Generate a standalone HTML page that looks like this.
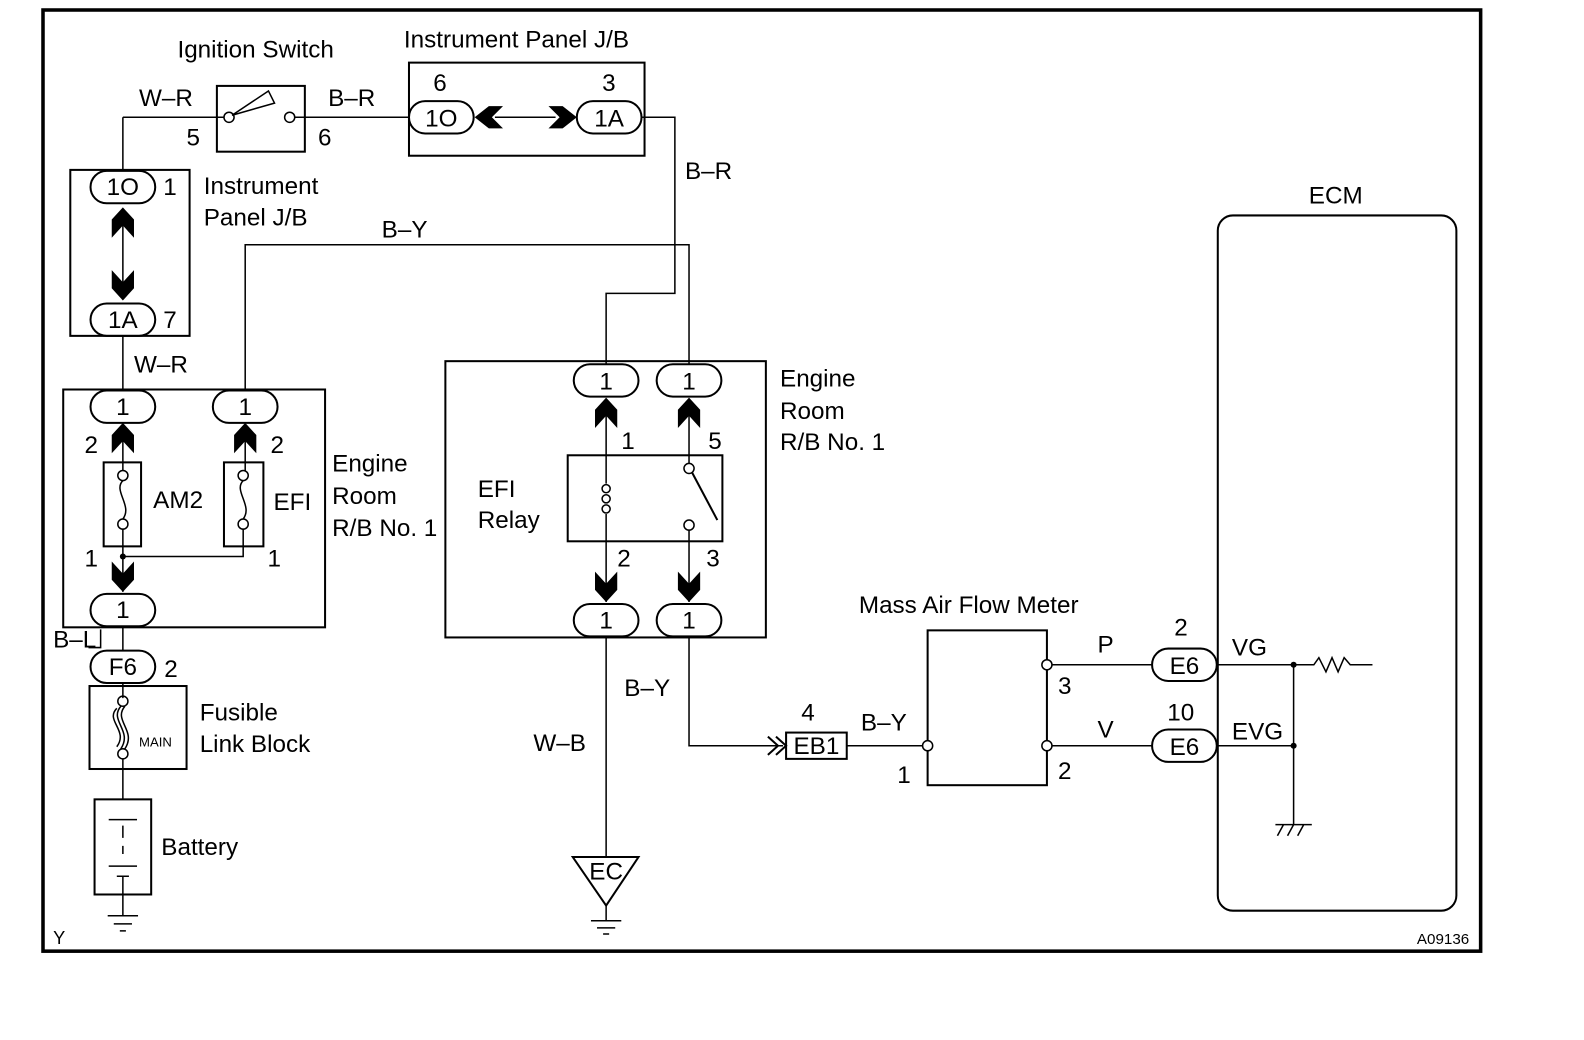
<!DOCTYPE html>
<html><head><meta charset="utf-8"><style>
html,body{margin:0;padding:0;background:#fff}
svg{display:block}
text{font-family:"Liberation Sans",sans-serif;fill:#000}
</style></head><body>
<svg width="1584" height="1040" viewBox="0 0 1584 1040" xmlns="http://www.w3.org/2000/svg">
<rect x="0" y="0" width="1584" height="1040" fill="#fff"/>
<g transform="translate(43 10) scale(1.011 1.012) translate(-43 -10)">
<g fill="none" stroke="#000" stroke-width="1.5">
<rect x="43" y="10" width="1422" height="930" stroke-width="3.5"/>
<rect x="215" y="85" width="87" height="65" stroke-width="2"/>
<circle cx="227" cy="116" r="5"/><circle cx="287" cy="116" r="5"/>
<path d="M230 114 L266 90 L272 102 Z" stroke-width="1.5"/>
<path d="M122 116 H222 M292 116 H405"/>
<rect x="405" y="62" width="233" height="92" stroke-width="2"/>
<rect x="405" y="100" width="64" height="32" rx="16" stroke-width="2"/>
<rect x="571" y="100" width="64" height="32" rx="16" stroke-width="2"/>
<path d="M490 116 H550"/>
<path d="M636 116 H668 V290 H600 V360"/>
<path d="M243 385 V242 H682 V360"/>
<rect x="70" y="168" width="118" height="164" stroke-width="2"/>
<rect x="90" y="169" width="64" height="32" rx="16" stroke-width="2"/>
<rect x="90" y="300" width="64" height="32" rx="16" stroke-width="2"/>
<path d="M122 116 V169 M122 210 V295 M122 332 V386"/>
<rect x="63" y="385" width="259" height="235" stroke-width="2"/>
<rect x="90" y="386" width="64" height="32" rx="16" stroke-width="2"/>
<rect x="211" y="386" width="64" height="32" rx="16" stroke-width="2"/>
<rect x="90" y="587" width="64" height="32" rx="16" stroke-width="2"/>
<rect x="103" y="457" width="37" height="83" stroke-width="2"/>
<rect x="222" y="457" width="39" height="83" stroke-width="2"/>
<circle cx="122" cy="470" r="5"/><circle cx="122" cy="518" r="5"/>
<circle cx="241" cy="470" r="5"/><circle cx="241" cy="518" r="5"/>
<path d="M122 475 C112 485,132 500,122 513 M241 475 C231 485,251 500,241 513"/>
<path d="M122 420 V465 M122 523 V585 M243 420 V465 M241 523 V550 H122"/>
<path d="M122 619 V643 M122 674 V690 M100 622 V640 H88"/>
<rect x="90" y="643" width="64" height="32" rx="16" stroke-width="2"/>
<rect x="89" y="678" width="96" height="82" stroke-width="2"/>
<circle cx="122" cy="693" r="5"/><circle cx="122" cy="745" r="5"/>
<path d="M120 698 C108 712,132 722,120 740 M124 698 C112 712,136 722,124 740 M116 700 C104 712,128 722,116 738"/>
<path d="M122 750 V790"/>
<rect x="94" y="790" width="56" height="94" stroke-width="2"/>
<path d="M108 810 H136 M122 816 V828 M122 836 V844 M108 856 H136 M116 866 H128 M122 866 V905"/>
<path d="M107 905 H137 M113 913 H131 M119 920 H125"/>
<rect x="441" y="357" width="317" height="273" stroke-width="2"/>
<rect x="568" y="360" width="64" height="32" rx="16" stroke-width="2"/>
<rect x="650" y="360" width="64" height="32" rx="16" stroke-width="2"/>
<rect x="568" y="597" width="64" height="32" rx="16" stroke-width="2"/>
<rect x="650" y="597" width="64" height="32" rx="16" stroke-width="2"/>
<rect x="562" y="450" width="153" height="85" stroke-width="2"/>
<path d="M600 395 V478 M600 508 V595"/>
<circle cx="600" cy="483" r="4"/><circle cx="600" cy="493" r="4"/><circle cx="600" cy="503" r="4"/>
<path d="M682 395 V458 M682 524 V595"/>
<circle cx="682" cy="463" r="5"/><circle cx="682" cy="519" r="5"/>
<path d="M685 467 L710 514" stroke-width="2"/>
<path d="M600 629 V848"/>
<path d="M567 847 H632 L600 895 Z" stroke-width="2"/>
<path d="M600 895 V910 M585 910 H615 M591 917 H609 M597 923 H603"/>
<path d="M682 629 V737 H775"/>
<path d="M760 728 L770 737 L760 746 M768 728 L778 737 L768 746" stroke-width="2"/>
<rect x="778" y="724" width="60" height="26" stroke-width="2"/>
<path d="M838 737 H913"/>
<rect x="918" y="623" width="118" height="153" stroke-width="2"/>
<circle cx="918" cy="737" r="5" fill="#fff"/>
<circle cx="1036" cy="657" r="5" fill="#fff"/>
<circle cx="1036" cy="737" r="5" fill="#fff"/>
<path d="M1041 657 H1140 M1041 737 H1140"/>
<rect x="1140" y="641" width="64" height="32" rx="16" stroke-width="2"/>
<rect x="1140" y="721" width="64" height="32" rx="16" stroke-width="2"/>
<rect x="1205" y="213" width="236" height="687" rx="15" stroke-width="2"/>
<path d="M1205 657 H1300 L1305 650 L1312 664 L1318 650 L1324 664 L1330 650 L1336 657 H1358"/>
<path d="M1205 737 H1280 M1280 657 V815 M1262 815 H1298 M1264 826 L1270 815 M1274 826 L1280 815 M1284 826 L1290 815"/>
</g>
<g fill="#000">
<circle cx="1280" cy="657" r="3"/><circle cx="1280" cy="737" r="3"/><circle cx="122" cy="550" r="3"/>
<polygon points="470,116 484,105 498,105 487,116 498,127 484,127"/>
<polygon points="571,116 557,105 543,105 554,116 543,127 557,127"/>
<polygon points="122,205 133,217 133,235 122,223 111,235 111,217"/>
<polygon points="122,297 133,285 133,267 122,279 111,267 111,285"/>
<polygon points="122,418 133,430 133,448 122,436 111,448 111,430"/>
<polygon points="243,418 254,430 254,448 243,436 232,448 232,430"/>
<polygon points="122,585 133,573 133,555 122,567 111,555 111,573"/>
<polygon points="600,393 611,405 611,423 600,411 589,423 589,405"/>
<polygon points="682,393 693,405 693,423 682,411 671,423 671,405"/>
<polygon points="600,595 611,583 611,565 600,577 589,565 589,583"/>
<polygon points="682,595 693,583 693,565 682,577 671,565 671,583"/>
</g>
<g font-size="24">
<text x="176" y="57">Ignition Switch</text>
<text x="400" y="47">Instrument Panel J/B</text>
<text x="138" y="105">W–R</text><text x="325" y="105">B–R</text>
<text x="185" y="144">5</text><text x="315" y="144">6</text>
<text x="429" y="90">6</text><text x="596" y="90">3</text>
<text x="437" y="125" text-anchor="middle">1O</text><text x="603" y="125" text-anchor="middle">1A</text>
<text x="678" y="177">B–R</text>
<text x="122" y="193" text-anchor="middle">1O</text><text x="162" y="193">1</text>
<text x="202" y="192">Instrument</text><text x="202" y="223">Panel J/B</text>
<text x="378" y="235">B–Y</text>
<text x="122" y="324" text-anchor="middle">1A</text><text x="162" y="324">7</text>
<text x="133" y="368">W–R</text>
<text x="122" y="410" text-anchor="middle">1</text><text x="243" y="410" text-anchor="middle">1</text>
<text x="84" y="448">2</text><text x="268" y="448">2</text>
<text x="152" y="502">AM2</text><text x="271" y="504">EFI</text>
<text x="329" y="466">Engine</text><text x="329" y="498">Room</text><text x="329" y="530">R/B No. 1</text>
<text x="84" y="560">1</text><text x="265" y="560">1</text>
<text x="122" y="611" text-anchor="middle">1</text>
<text x="53" y="640">B–L</text>
<text x="122" y="667" text-anchor="middle">F6</text><text x="163" y="669">2</text>
<text x="198" y="712">Fusible</text><text x="198" y="743">Link Block</text>
<text x="138" y="738" font-size="13">MAIN</text>
<text x="160" y="845">Battery</text>
<text x="53" y="933" font-size="18">Y</text>
<text x="600" y="385" text-anchor="middle">1</text><text x="682" y="385" text-anchor="middle">1</text>
<text x="772" y="382">Engine</text><text x="772" y="414">Room</text><text x="772" y="445">R/B No. 1</text>
<text x="615" y="444">1</text><text x="701" y="444">5</text>
<text x="473" y="491">EFI</text><text x="473" y="522">Relay</text>
<text x="611" y="560">2</text><text x="699" y="560">3</text>
<text x="600" y="621" text-anchor="middle">1</text><text x="682" y="621" text-anchor="middle">1</text>
<text x="618" y="688">B–Y</text><text x="528" y="742">W–B</text>
<text x="600" y="869" text-anchor="middle">EC</text>
<text x="793" y="712">4</text><text x="852" y="722">B–Y</text>
<text x="808" y="745" text-anchor="middle">EB1</text>
<text x="888" y="774">1</text>
<text x="850" y="606">Mass Air Flow Meter</text>
<text x="1086" y="645">P</text><text x="1086" y="729">V</text>
<text x="1047" y="686">3</text><text x="1047" y="770">2</text>
<text x="1162" y="628">2</text><text x="1155" y="712">10</text>
<text x="1172" y="666" text-anchor="middle">E6</text><text x="1172" y="746" text-anchor="middle">E6</text>
<text x="1219" y="648">VG</text><text x="1219" y="731">EVG</text>
<text x="1295" y="201">ECM</text>
<text x="1402" y="933" font-size="15">A09136</text>
</g>
</g>
</svg>
</body></html>
